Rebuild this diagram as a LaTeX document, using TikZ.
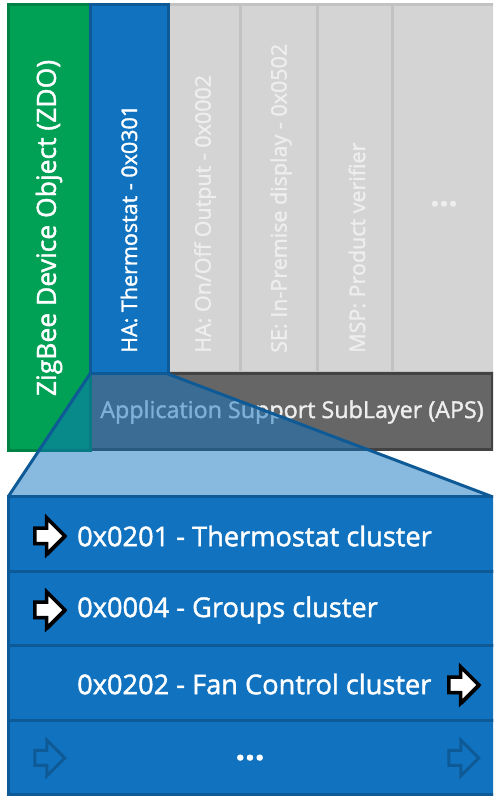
\documentclass[tikz,border=0pt]{standalone}
\usepackage{fontspec}
\setmainfont{Open Sans}[RawFeature={embolden=1.5}]
\usepackage{tikz}
\usetikzlibrary{positioning,calc,shapes.arrows,shadows}
\usepackage{xcolor}
\definecolor{zbgreen}{RGB}{0,160,85}
\definecolor{zbgreendark}{RGB}{0,130,70}
\definecolor{zbblue}{RGB}{17,115,192}
\definecolor{zbbluedark}{RGB}{14,90,150}
\definecolor{zbgray}{RGB}{212,212,212}
\definecolor{zbgrayline}{RGB}{194,194,194}
\definecolor{zbaps}{RGB}{102,102,102}
\definecolor{zbapsline}{RGB}{66,66,66}
\definecolor{zbtext}{RGB}{238,238,238}

\begin{document}
\begin{tikzpicture}[x=1pt, y=1pt,
    layer/.style={rectangle, inner sep=0pt, outer sep=0pt, line width=3pt},
    vlbl/.style={rotate=90, anchor=west, inner sep=0pt, font=\fontsize{21.5}{24}\selectfont},
    row/.style={layer, fill=zbblue, draw=zbbluedark, minimum width=489pt, minimum height=74.5pt},
    rowlbl/.style={anchor=west, inner sep=0pt, text=white, font=\fontsize{27.2}{30}\selectfont},
    dots/.style={anchor=base, inner sep=0pt, font=\fontsize{34}{34}\selectfont\bfseries},
    arr/.style={single arrow, single arrow head extend=10.5pt, minimum height=30pt,
        minimum width=33pt, inner xsep=0pt, inner ysep=6pt, line width=3pt},
    arrsolid/.style={arr, fill=white, draw=black, line width=3.5pt,
        drop shadow={opacity=1, fill=black, shadow xshift=1.5pt, shadow yshift=-1.5pt}}
]
\useasboundingbox (0,0) rectangle (493,797);
\clip (0,0) rectangle (493,797);

% Profiles
\node[layer, fill=zbgray, draw=zbgrayline, minimum width=72pt, minimum height=368pt] (onoff) at (204,608) {};
\node[layer, fill=zbgray, draw=zbgrayline, minimum width=77pt, minimum height=368pt] (ipd) at (278.5,608) {};
\node[layer, fill=zbgray, draw=zbgrayline, minimum width=75pt, minimum height=368pt] (msp) at (354.5,608) {};
\node[layer, fill=zbgray, draw=zbgrayline, minimum width=104pt, minimum height=368pt] (more) at (444,608) {};
\node[layer, fill=zbaps, draw=zbapsline, minimum width=402pt, minimum height=76pt] (aps) at (291,385) {};
\node[layer, fill=zbgreen, draw=zbgreendark, minimum width=82pt, minimum height=446pt] (zdo) at (49,569) {};
\node[layer, fill=zbblue, draw=zbbluedark, minimum width=78pt, minimum height=369pt] (thermo) at (129,607.5) {};

\node[rotate=90, inner sep=0pt, text=white, font=\fontsize{26.5}{28}\selectfont] (zdotxt) at (zdo.center) {ZigBee Device Object (ZDO)};
\node[vlbl, text=white] (thermotxt) at (129,444) {HA: Thermostat - 0x0301};
\node[vlbl, text=zbtext] (onofftxt) at (205,444) {HA: On/Off Output - 0x0002};
\node[vlbl, text=zbtext] (ipdtxt) at (281,444) {SE: In-Premise display - 0x0502};
\node[vlbl, text=zbtext] (msptxt) at (357,444) {MSP: Product verifier};
\node[dots, text=zbtext, font=\fontsize{32}{32}\selectfont\bfseries] (moretxt) at (444,591) {...};
\node[text=zbtext, font=\fontsize{23.3}{25}\selectfont] (apstxt) at (292,385) {Application Support SubLayer (APS)};

% Zoom onto the thermostat endpoint
\coordinate (zl) at (8,300);
\coordinate (zr) at (493,300);
\fill[zbblue, fill opacity=0.5] (thermo.south west) -- (zl) -- (zr) -- (thermo.south east) -- cycle;
\draw[zbbluedark, line width=3pt] (thermo.south west) -- (zl);
\draw[zbbluedark, line width=3pt] (thermo.south east) -- (zr);
\draw[zbbluedark, line width=3pt] (thermo.south west) -- (thermo.south east);

% Clusters
\node[row] (r1) at (252.5,262.75) {};
\node[row] (r2) at (252.5,188.25) {};
\node[row] (r3) at (252.5,113.75) {};
\node[row] (r4) at (252.5,39.25) {};

\node[rowlbl] (r1txt) at (77,261) {0x0201 - Thermostat cluster};
\node[rowlbl] (r2txt) at (77,187) {0x0004 - Groups cluster};
\node[rowlbl] (r3txt) at (77,113) {0x0202 - Fan Control cluster};
\node[dots, text=white] (r4txt) at (250,37) {...};

\node[arrsolid] (a1) at (46,261) {};
\node[arrsolid] (a2) at (46,187) {};
\node[arrsolid] (a3) at (460,112) {};
\node[arr, draw=zbbluedark] (a4) at (46,39) {};
\node[arr, draw=zbbluedark] (a5) at (460,39) {};
\end{tikzpicture}
\end{document}
